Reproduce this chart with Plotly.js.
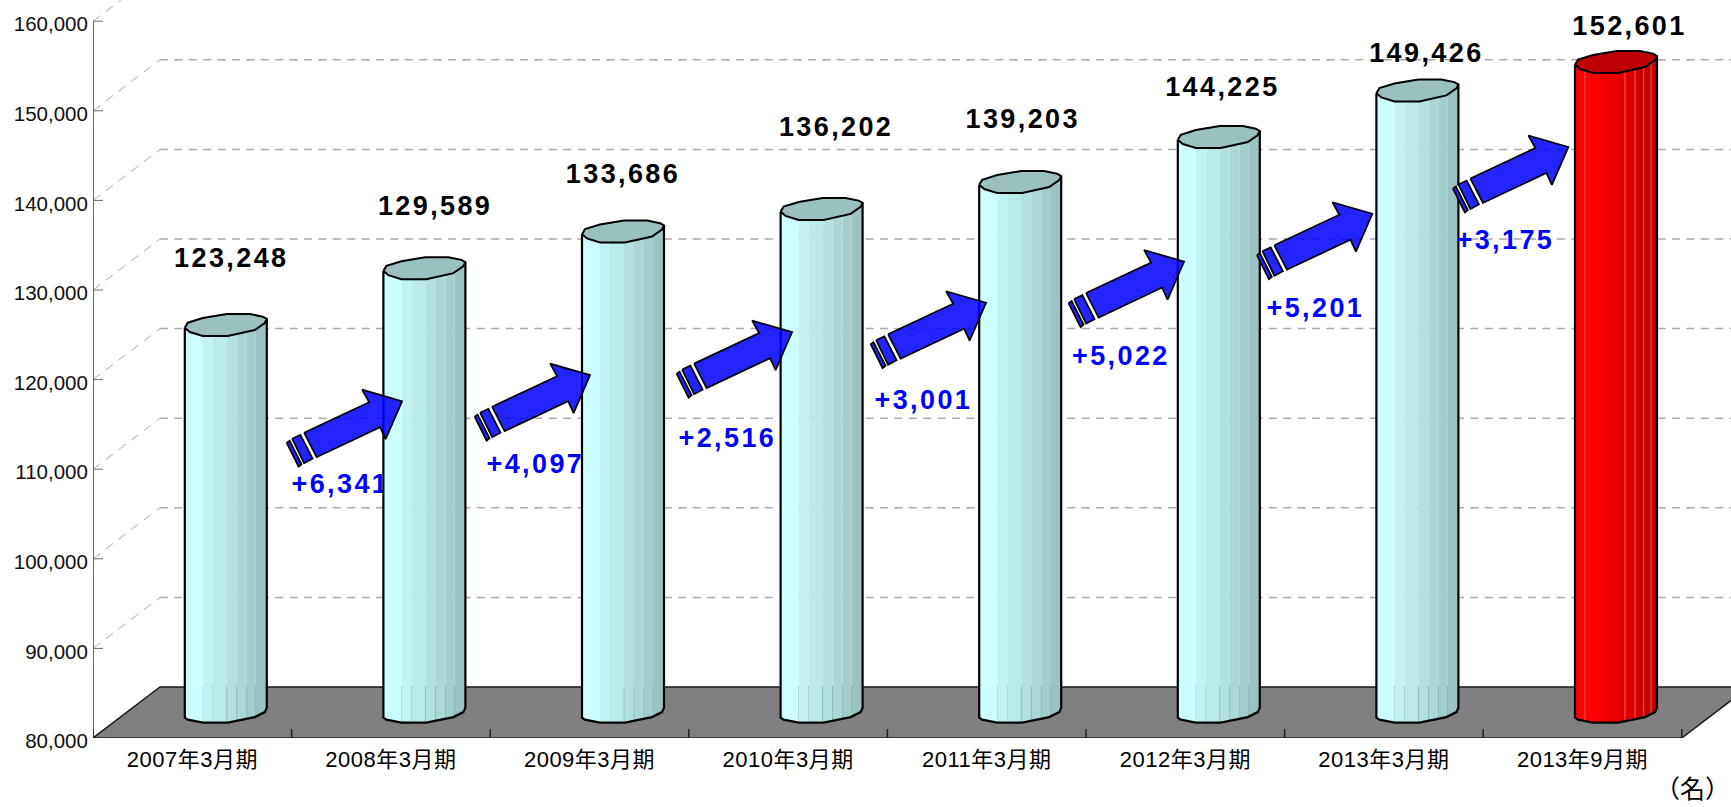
<!DOCTYPE html>
<html>
<head>
<meta charset="utf-8">
<script src="https://cdn.plot.ly/plotly-3.0.1.min.js"></script>
<style>
html,body{margin:0;padding:0;background:#fff;overflow:hidden}#chart{width:1731px;height:807px}
.textpoint text{letter-spacing:2.4px}
.xtick text{letter-spacing:0.5px}
</style>
</head>
<body>
<div id="chart"></div>
<script>
// ---------- data ----------
const categories = ['2007年3月期','2008年3月期','2009年3月期','2010年3月期','2011年3月期','2012年3月期','2013年3月期','2013年9月期'];
const employees = [123248,129589,133686,136202,139203,144225,149426,152601];
const yTickValues = [80000,90000,100000,110000,120000,130000,140000,150000,160000];
const unitLabel = '（名）';

// ---------- geometry (pixels per data unit, and offsets in pixels) ----------
const PX_PER_CAT = 198.6, PX_PER_UNIT = 0.00896;
const Y_BASE = 80000, Y_TOP = Y_BASE + 738 / PX_PER_UNIT;
const X_LEFT = -0.5, X_RIGHT = X_LEFT + 1638 / PX_PER_CAT;
const DEPTH_X = 67 / PX_PER_CAT, DEPTH_Y = 51 / PX_PER_UNIT;
const dx = p => p / PX_PER_CAT, dy = p => -p / PX_PER_UNIT;

const capOutline = [[-41,2.7],[-38,-2.3],[-23,-7],[1,-11],[24,-11],[37,-8.3],[41,-6],[39,-2],[29,5],[2,11],[-23,11],[-36,7]];
const baseProfile = [[-41,5.2],[-38,7.2],[-23,10.2],[2,10.2],[29,4.6],[39,-0.4],[41,-4.8]];
const stripEdges = [-41,-23,-13,1,11,21,30,41];
const cyanStrips = ['#CCFFFF','#C1F3F3','#BAEAEA','#B3E0E0','#ACD7D7','#A3CCCC','#9CC3C3'];
const redStrips = ['#FF0000','#FA0000','#EE0000','#E40000','#DA0000','#CE0000','#C20000'];
const cyanCap = '#9BC0C0', redCap = '#BF0000';
const redSheen = [-31,9,19,27.7,35];
const floorSheen = [1,11,21,30];

const arrowBody = [[-98,31.5],[-33,1],[-40,-11.5],[0,0],[-16.5,38],[-22,26],[-85.5,56]];
const arrowBandA = [[-110,37.5],[-101.7,33.6],[-89.5,57.5],[-98,62]];
const arrowBandB = [[-115.5,41.5],[-112.5,39.5],[-100.5,63],[-103.5,65.5]];
const arrowTailGap = [[-115.5,41.5],[-98,31.5],[-85.5,56],[-103.5,65.5]];
const arrowTipOffset = [[-22.3,133],[-32.9,143.7],[-29.5,123.2],[-34.1,120.7],[-34.7,124.5],[-45,123.3],[-47.6,85]];
const deltaLabelOffset = [[-61.7,85.5],[-54.7,90.8],[-64.7,107.8],[-62.7,99.2],[-63.2,96.9],[-57,96.2],[-63,94.8]];
const valueLabelOffset = [[5.5,-64.5],[10.7,-59.5],[0,-55.5],[14.5,-80.1],[2.5,-61],[3.6,-48.2],[9,-35.5],[13.5,-33.5]];

const fmt = v => v.toLocaleString('en-US');
const barX = i => i + DEPTH_X / 2;
const barY = v => v + DEPTH_Y / 2;

const LABEL_FONT = 'Liberation Sans, sans-serif';
const traces = [];

function poly(cx, cy, pts, fill, line, width) {
  const xs = pts.map(p => cx + dx(p[0])), ys = pts.map(p => cy + dy(p[1]));
  xs.push(xs[0]); ys.push(ys[0]);
  return {x: xs, y: ys, type:'scatter', mode: width ? 'lines':'none', fill:'toself', fillcolor: fill,
          line: {color: line || fill, width: width || 0}, hoverinfo:'skip'};
}
function segs(list, color, width, dash) {
  const x = [], y = [];
  list.forEach(s => { x.push(s[0], s[2], null); y.push(s[1], s[3], null); });
  return {x, y, type:'scatter', mode:'lines', line:{color, width, dash: dash || 'solid'}, hoverinfo:'skip'};
}
function interp(prof, t) {
  for (let k = 0; k < prof.length - 1; k++) {
    if (t >= prof[k][0] && t <= prof[k+1][0]) {
      const f = (t - prof[k][0]) / (prof[k+1][0] - prof[k][0]);
      return prof[k][1] + f * (prof[k+1][1] - prof[k][1]);
    }
  }
  return prof[prof.length-1][1];
}

// ---------- back wall grid (dashed) ----------
const diag = [], horiz = [], yTicks = [];
yTickValues.forEach(v => {
  if (v > Y_BASE) {
    diag.push([X_LEFT, v, X_LEFT + DEPTH_X, v + DEPTH_Y]);
    yTicks.push([X_LEFT, v, X_LEFT + dx(10), v]);
    if (v + DEPTH_Y < Y_TOP) horiz.push([X_LEFT + DEPTH_X, v + DEPTH_Y, X_RIGHT, v + DEPTH_Y]);
  }
});
traces.push(segs(diag, '#ABABAB', 1, '9px,7px'));
traces.push(segs(horiz, '#ABABAB', 1.5, '8px,6.4px'));

// ---------- floor ----------
const nCat = categories.length, xEnd = X_LEFT + nCat;
traces.push({x:[X_LEFT, xEnd, xEnd + DEPTH_X, X_LEFT + DEPTH_X, X_LEFT],
             y:[Y_BASE, Y_BASE, Y_BASE + DEPTH_Y, Y_BASE + DEPTH_Y, Y_BASE],
             type:'scatter', mode:'lines', fill:'toself', fillcolor:'#808080',
             line:{color:'#1a1a1a', width:1.5}, hoverinfo:'skip'});
traces.push(segs([[X_LEFT, Y_BASE, X_LEFT, 160000]], '#6a6a6a', 2));
traces.push(segs(yTicks, '#6a6a6a', 1));
const xTicks = [];
for (let i = 0; i <= nCat; i++) xTicks.push([X_LEFT + i, Y_BASE, X_LEFT + i, Y_BASE - dy(9)]);
traces.push(segs(xTicks, '#222222', 1.5));

// ---------- cylinders + change labels ----------
employees.forEach((v, i) => {
  const isLast = i === employees.length - 1;
  const colors = isLast ? redStrips : cyanStrips;
  const cx = barX(i), top = barY(v), bottom = barY(Y_BASE);
  colors.forEach((c, s) => {
    const a = stripEdges[s], b = stripEdges[s+1];
    const chord = t => 2.7 + (t + 41) / 82 * (-6 - 2.7);
    const inner = baseProfile.filter(p => p[0] > a && p[0] < b);
    const pts = [[a, interp(baseProfile, a)]].concat(inner, [[b, interp(baseProfile, b)]]);
    const xs = [cx + dx(a), cx + dx(b)], ys = [top + dy(chord(a)), top + dy(chord(b))];
    pts.slice().reverse().forEach(p => { xs.push(cx + dx(p[0])); ys.push(bottom + dy(p[1])); });
    xs.push(xs[0]); ys.push(ys[0]);
    traces.push({x: xs, y: ys, type:'scatter', mode:'none', fill:'toself', fillcolor:c, hoverinfo:'skip'});
  });
  if (isLast) {
    traces.push(segs(redSheen.map(t => [cx + dx(t), top + dy(0), cx + dx(t), bottom + dy(interp(baseProfile, t))]),
                     'rgba(255,150,150,0.6)', 1));
  } else {
    traces.push(segs(floorSheen.map(t => [cx + dx(t), Y_BASE + DEPTH_Y, cx + dx(t), bottom + dy(interp(baseProfile, t))]),
                     'rgba(140,185,185,0.7)', 1));
  }
  const body = [[-41, null]].concat(baseProfile, [[41, null]]);
  const ox = body.map(p => cx + dx(p[0]));
  const oy = body.map((p, k) => k === 0 ? top + dy(2.7) : k === body.length - 1 ? top + dy(-6) : bottom + dy(p[1]));
  traces.push({x: ox, y: oy, type:'scatter', mode:'lines', line:{color:'#000', width:2.2, shape:'linear'}, hoverinfo:'skip'});
  traces.push(poly(cx, top, capOutline, isLast ? redCap : cyanCap, '#000', 2));

  if (i < employees.length - 1) {
    const tip = arrowTipOffset[i], off = deltaLabelOffset[i];
    const tx = barX(i + 1) + dx(tip[0]), ty = barY(employees[i + 1]) + dy(tip[1]);
    traces.push({x:[tx + dx(off[0])], y:[ty + dy(off[1])], type:'scatter', mode:'text',
                 text:['+' + fmt(employees[i + 1] - v)], textposition:'middle center', cliponaxis:false,
                 textfont:{family:LABEL_FONT, size:27, color:'#0000FF', weight:700}, hoverinfo:'skip'});
  }
});

// ---------- arrows ----------
arrowTipOffset.forEach((tip, i) => {
  const tx = barX(i + 1) + dx(tip[0]), ty = barY(employees[i + 1]) + dy(tip[1]);
  const fill = 'rgba(0,0,255,0.86)';
  traces.push(poly(tx, ty, arrowTailGap, '#FFFFFF'));
  traces.push(poly(tx, ty, arrowBandB, fill, '#000', 1.7));
  traces.push(poly(tx, ty, arrowBandA, fill, '#000', 1.7));
  traces.push(poly(tx, ty, arrowBody, fill, '#000', 1.7));
});

// ---------- value labels ----------
employees.forEach((v, i) => {
  const o = valueLabelOffset[i];
  traces.push({x:[barX(i) + dx(o[0])], y:[barY(v) + dy(o[1])], type:'scatter', mode:'text',
               text:[fmt(v)], textposition:'middle center', cliponaxis:false,
               textfont:{family:LABEL_FONT, size:27, color:'#000000', weight:700}, hoverinfo:'skip'});
});

const layout = {
  width:1731, height:807, showlegend:false, hovermode:false,
  paper_bgcolor:'#fff', plot_bgcolor:'#fff',
  margin:{l:93, r:0, t:0, b:69, pad:0},
  font:{family:'Liberation Sans, Noto Sans CJK JP, sans-serif', color:'#000'},
  xaxis:{range:[X_LEFT, X_RIGHT], tickmode:'array', tickvals:categories.map((c,i)=>i), ticktext:categories,
         showgrid:false, zeroline:false, showline:false, ticks:'outside', ticklen:2, tickcolor:'rgba(0,0,0,0)',
         tickfont:{size:22, family:'Liberation Sans, Noto Sans CJK JP, sans-serif', color:'#000'}},
  yaxis:{range:[Y_BASE, Y_TOP], tickmode:'array', tickvals:yTickValues, ticktext:yTickValues.map(fmt),
         showgrid:false, zeroline:false, showline:false, ticks:'outside', ticklen:2, tickcolor:'rgba(0,0,0,0)',
         ticklabelstandoff:-2, ticklabelshift:3,
         tickfont:{size:20.5, family:'Liberation Sans, sans-serif', color:'#111'}},
  annotations:[{xref:'paper', yref:'paper', x:(1692-93)/1638, y:(738-789)/738, text:unitLabel, showarrow:false,
                xanchor:'center', yanchor:'middle', font:{size:25, family:'Liberation Sans, Noto Sans CJK JP', color:'#000'}}]
};
Plotly.newPlot('chart', traces, layout, {displayModeBar:false, responsive:false, staticPlot:true});
</script>
</body>
</html>
